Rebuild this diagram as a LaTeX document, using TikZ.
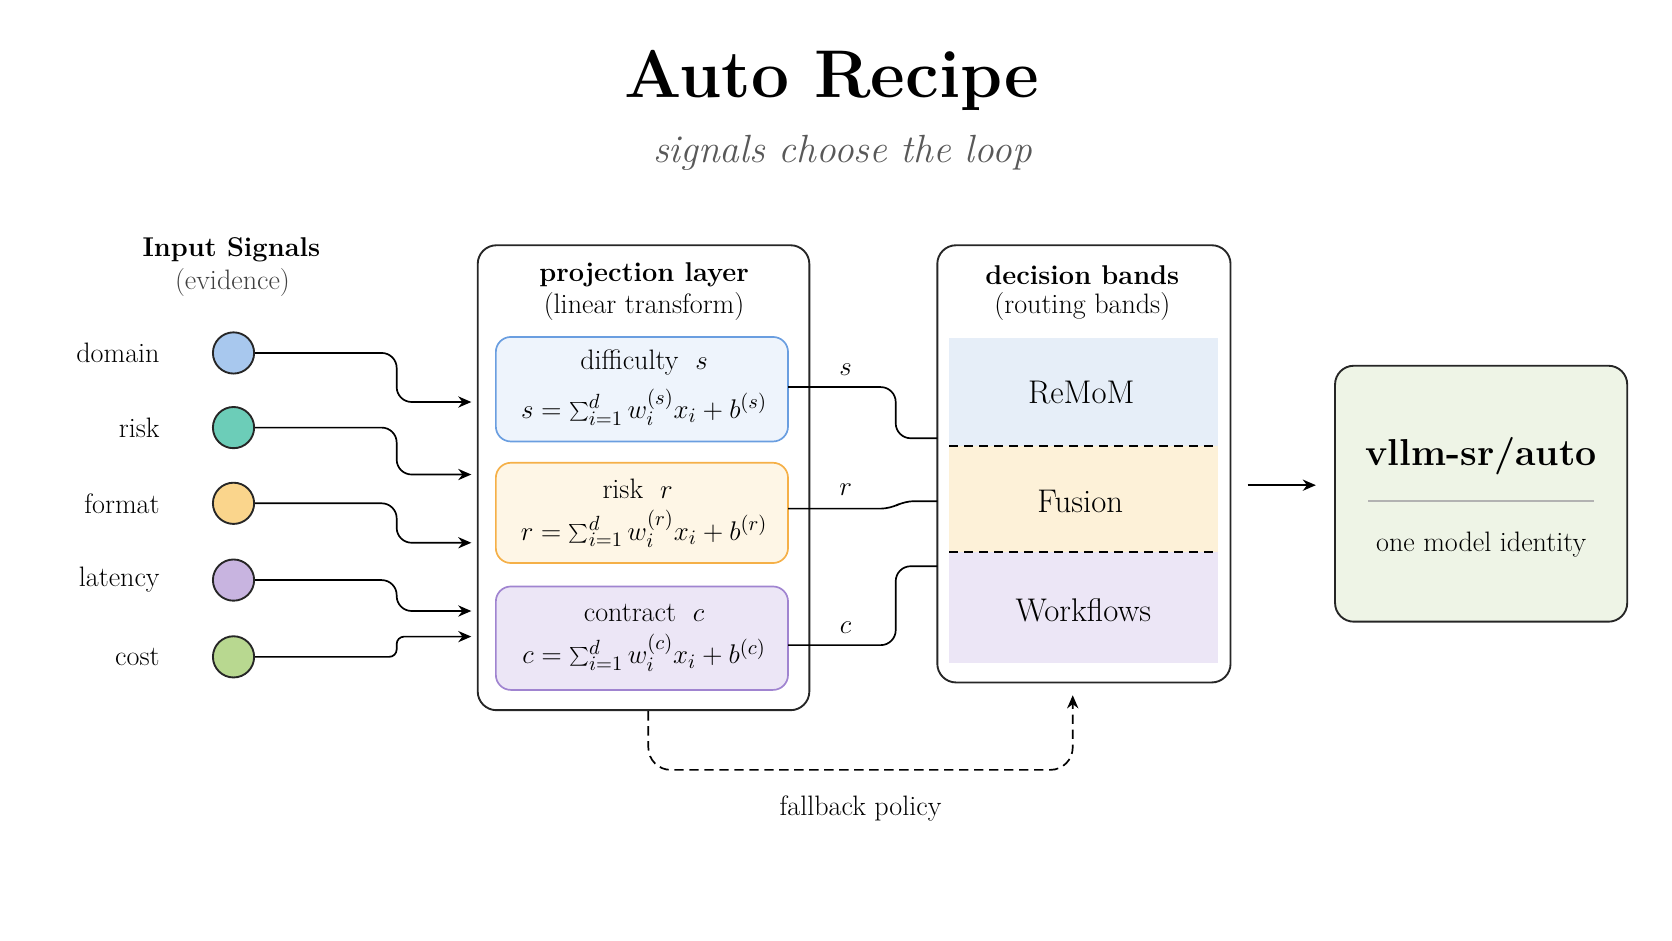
\documentclass[tikz,border=0pt]{standalone}
\usetikzlibrary{arrows.meta}
\begin{document}
\begin{tikzpicture}[x=0.02cm,y=-0.02cm,
  every node/.style={inner sep=0pt},
  lbl/.style={font=\fontsize{15}{17}\selectfont},
  sig/.style={circle,draw=black!85,line width=1pt,minimum size=22pt},
  conn/.style={draw=black,line width=0.9pt,rounded corners=8pt},
  arr/.style={conn,-{Stealth[length=7pt,width=6pt]}},
  panel/.style={draw=black!85,line width=1pt,rounded corners=10pt},
  inner/.style={line width=0.9pt,rounded corners=8pt}]
\useasboundingbox (0,0) rectangle (1568,882);
\definecolor{cdom}{HTML}{A8C8EE}\definecolor{crisk}{HTML}{6CCDB8}
\definecolor{cfmt}{HTML}{FAD58C}\definecolor{clat}{HTML}{C8B4E0}
\definecolor{ccost}{HTML}{B8D890}
% title
\node (title) at (780,75) {\fontsize{36}{40}\selectfont\bfseries Auto Recipe};
\node[text=black!65] (sub) at (790,143) {\fontsize{21}{24}\selectfont\itshape signals choose the loop};
% inputs
\node (inh) at (217,234) {\fontsize{14.5}{16}\selectfont\bfseries Input Signals};
\node[lbl,text=black!75] (inh2) at (218,265) {(evidence)};
\foreach \n/\t/\y/\c in {a/domain/331/cdom,b/risk/401/crisk,c/format/472/cfmt,d/latency/544/clat,e/cost/616/ccost}{
  \node[sig,fill=\c] (\n) at (219,\y) {};
  \node[lbl,anchor=east] (l\n) at (150,\y) {\t};
}
% projection
\draw[panel] (448,230) rectangle (759,666);
\node (ph) at (604,258) {\fontsize{14.5}{16}\selectfont\bfseries projection layer};
\node[lbl] (ph2) at (604,287) {(linear transform)};
\definecolor{bb}{HTML}{6A9EE0}\definecolor{bf}{HTML}{EEF4FC}
\definecolor{ob}{HTML}{F5B048}\definecolor{of}{HTML}{FEF6E6}
\definecolor{pb}{HTML}{A084D0}\definecolor{pf}{HTML}{ECE6F6}
\draw[inner,draw=bb,fill=bf] (465,316) rectangle (739,414);
\draw[inner,draw=ob,fill=of] (465,434) rectangle (739,528);
\draw[inner,draw=pb,fill=pf] (465,550) rectangle (739,647);
\node[lbl] (d1) at (604,340) {difficulty\ \ $s$};
\node[lbl] (d2) at (604,382) {$s=\sum_{i=1}^{d} w_i^{(s)}x_i+b^{(s)}$};
\node[lbl] (r1) at (598,458) {risk\ \ $r$};
\node[lbl] (r2) at (604,496) {$r=\sum_{i=1}^{d} w_i^{(r)}x_i+b^{(r)}$};
\node[lbl] (c1) at (604,575) {contract\ \ $c$};
\node[lbl] (c2) at (604,612) {$c=\sum_{i=1}^{d} w_i^{(c)}x_i+b^{(c)}$};
% input arrows
\foreach \n/\y/\t/\rc in {a/331/377/8,b/401/445/8,c/472/509/8,d/544/573/8,e/616/597/4}{
  \coordinate (t\n) at (442,\t);
  \draw[arr,rounded corners=\rc pt] (\n.east) -- (372,\y) -- (372,\t) -- (t\n);
}
% decision
\draw[panel] (879,230) rectangle (1154,640);
\node (dh) at (1015,258) {\fontsize{14.5}{16}\selectfont\bfseries decision bands};
\node[lbl] (dh2) at (1015,287) {(routing bands)};
\fill[fill={rgb,255:red,230;green,238;blue,248}] (890,317) rectangle (1142,418);
\fill[fill={rgb,255:red,253;green,241;blue,216}] (890,418) rectangle (1142,518);
\fill[fill={rgb,255:red,236;green,230;blue,246}] (890,518) rectangle (1142,622);
\draw[dashed,line width=1pt,dash pattern=on 5pt off 3pt] (890,418) -- (1142,418) (890,518) -- (1142,518);
\node (b1) at (1014,368) {\fontsize{17.5}{20}\selectfont ReMoM};
\node (b2) at (1013,470) {\fontsize{17.5}{20}\selectfont Fusion};
\node (b3) at (1016,572) {\fontsize{17.5}{20}\selectfont Workflows};
% projection -> bands
\coordinate (ps) at (739,363); \coordinate (ds) at (879,411);
\coordinate (pr) at (739,477); \coordinate (dr) at (879,470);
\coordinate (pc) at (739,605); \coordinate (dc) at (879,531);
\draw[conn] (ps) -- (840,363) -- (840,411) -- (ds);
\draw[conn,rounded corners=5pt] (pr) -- (835,477) -- (848,470) -- (dr);
\draw[conn] (pc) -- (840,605) -- (840,531) -- (dc);
\node[lbl] (ls) at (793,347) {$s$};
\node[lbl] (lr) at (793,459) {$r$};
\node[lbl] (lc) at (793,589) {$c$};
% output
\coordinate (o1) at (1170,455); \coordinate (o2) at (1234,455);
\draw[arr] (o1) -- (o2);
\draw[panel,fill={rgb,255:red,238;green,244;blue,230}] (1252,343) rectangle (1526,583);
\node (out) at (1389,428) {\fontsize{20}{24}\selectfont\bfseries vllm-sr/auto};
\draw[black!30,line width=0.8pt] (1283,470) -- (1495,470);
\node[lbl] (out2) at (1389,511) {one model identity};
% fallback
\coordinate (f1) at (608,667); \coordinate (f2) at (1006,652);
\draw[arr,dashed,dash pattern=on 5pt off 3pt,rounded corners=12pt] (f1) -- (608,722) -- (1006,722) -- (f2);
\node[lbl] (fb) at (807,758) {fallback policy};
\end{tikzpicture}
\end{document}
